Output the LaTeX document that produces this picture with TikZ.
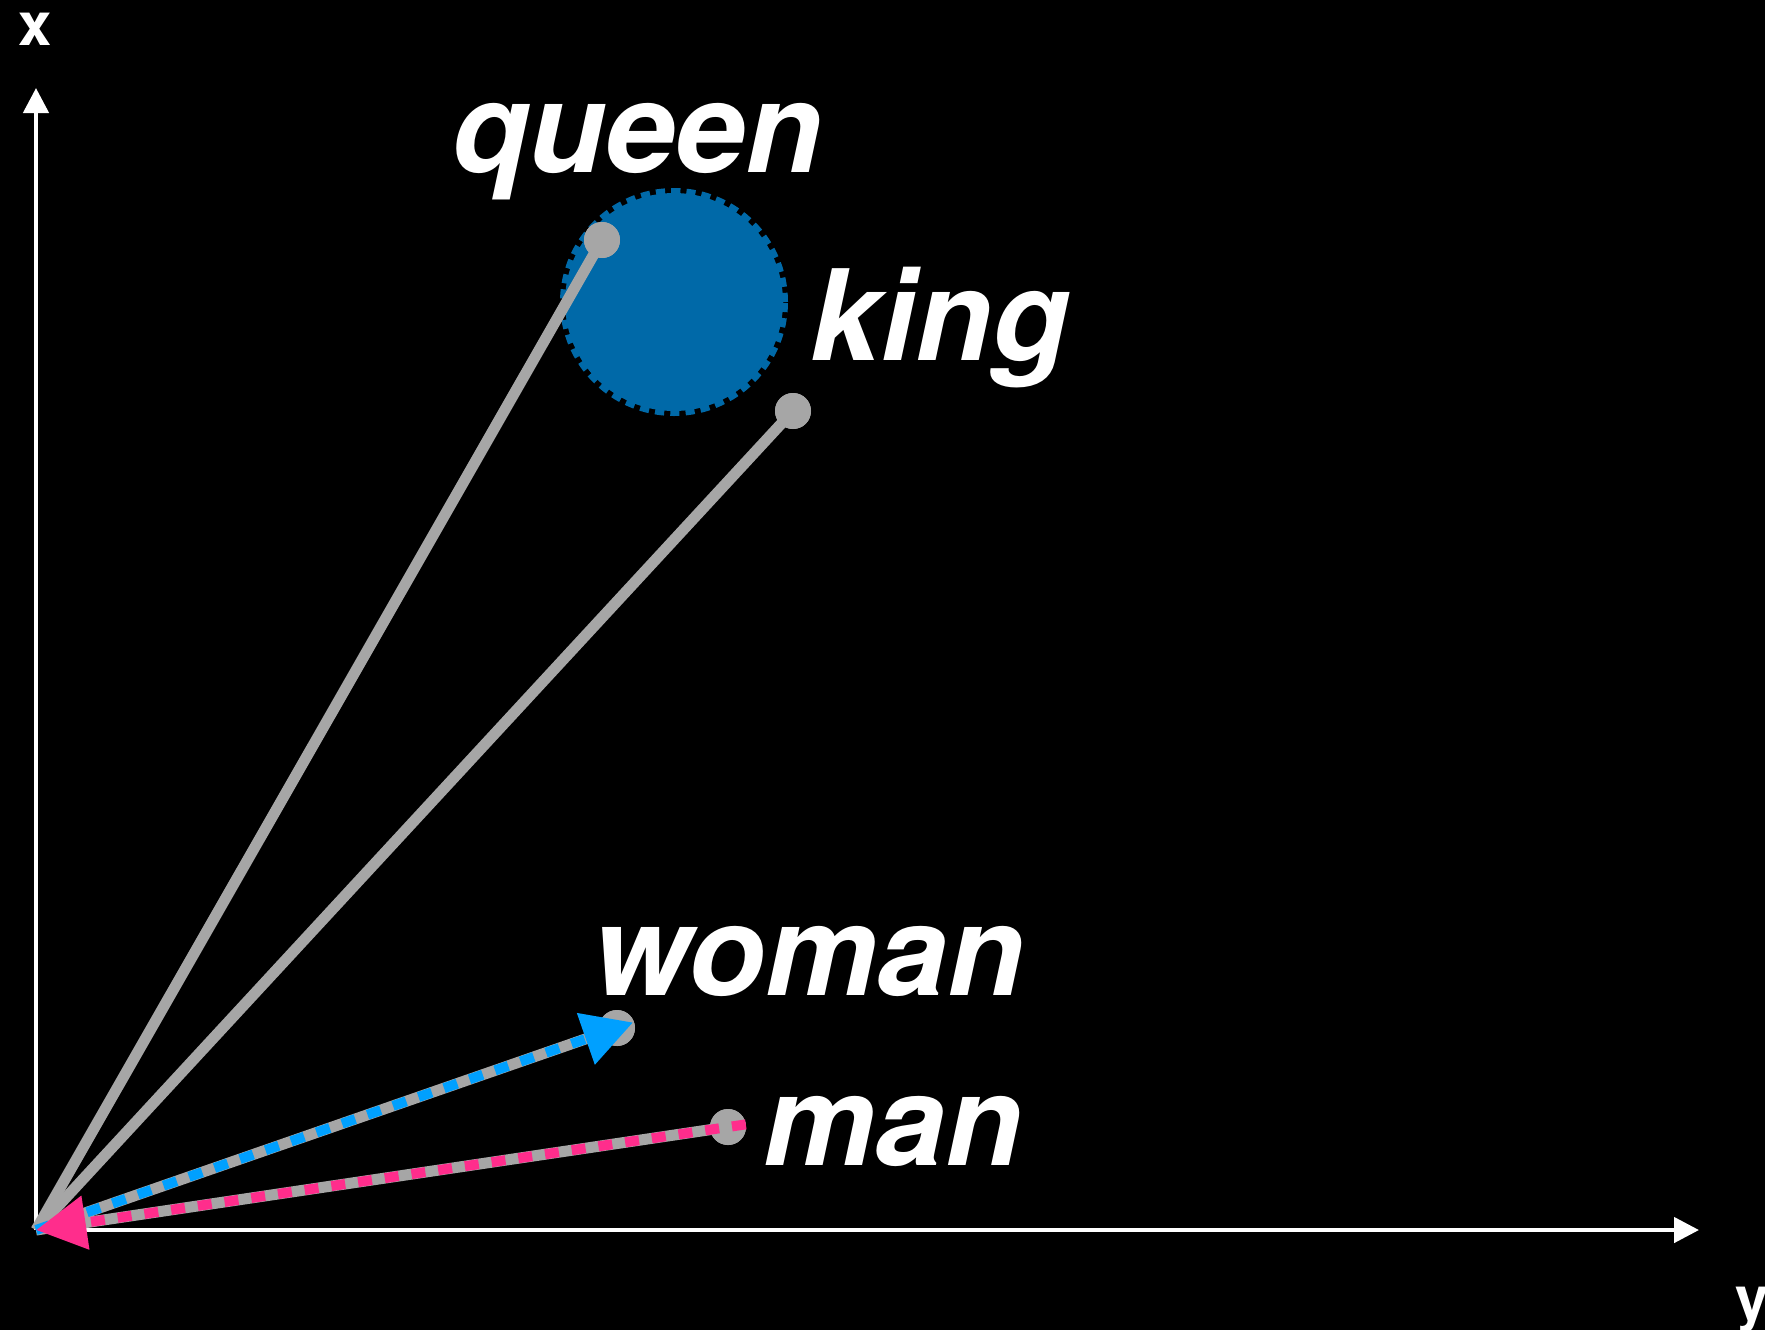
\documentclass[tikz,border=0pt]{standalone}
\usepackage{fontspec}
\setmainfont{TeX Gyre Heros}
\usetikzlibrary{arrows.meta,calc}
\definecolor{vecgrey}{RGB}{166,166,166}
\definecolor{clusterblue}{RGB}{0,105,168}
\definecolor{womanblue}{RGB}{0,160,255}
\definecolor{manpink}{RGB}{255,45,140}

\begin{document}
\begin{tikzpicture}[
    x=0.5pt, y=-0.5pt,
    axis/.style={line width=2.25pt, white, -{Triangle[length=12.5pt,width=12.5pt]}},
    vector/.style={line width=5.5pt, vecgrey},
    worddot/.style={circle, fill=vecgrey, inner sep=0pt, minimum size=18pt},
    word/.style={anchor=base west, inner sep=0pt, text=white,
                 font=\fontsize{63}{72}\selectfont\bfseries\itshape},
    axlabel/.style={inner sep=0pt, text=white, font=\fontsize{30}{36}\selectfont\bfseries},
    diffvec/.style={line width=5pt, dash pattern=on 7pt off 6.5pt,
                    -{Triangle[length=25pt,width=26pt]}}
]
% background and page size
\fill[black] (0,0) rectangle (1765,1330);
\useasboundingbox (0,0) rectangle (1765,1330);

\coordinate (O)  at (36,1230);
\coordinate (xtip) at (36,88);
\coordinate (ytip) at (1699,1230);

% axes
\draw[axis] (O) -- (xtip);
\draw[axis] (O) -- (ytip);
\node[axlabel] (xlab) at (35,29) {x};
\node[axlabel, anchor=base west] (ylab) at (1735,1319) {y};

% neighbourhood of queen
\node[circle, fill=clusterblue, draw=clusterblue, line width=5pt,
      dash pattern=on 4.5pt off 3pt, minimum size=109pt] (cluster) at (674,302) {};

% word vectors
\node[worddot] (queen) at (602,240) {};
\node[worddot] (king)  at (793,411) {};
\node[worddot] (woman) at (617,1028) {};
\node[worddot] (man)   at (728,1127) {};

\draw[vector] (O) -- (queen.center);
\draw[vector] (O) -- (king.center);
\draw[vector] (O) -- (woman.center);
\draw[vector] (O) -- (man.center);
\node[worddot] at (queen.center) {};
\node[worddot] at (king.center) {};
\node[worddot] at (woman.center) {};
\node[worddot] at (man.center) {};

% offsets
\coordinate (womanfar) at ($(woman.center)!-8.5pt!(O)$);
\coordinate (manfar) at ($(man.center)!-9pt!(O)$);
\draw[diffvec, womanblue] (O) -- (womanfar);
\draw[diffvec, manpink] (manfar) -- (O);

% labels
\node[word] (queenlab) at (452,172) {queen};
\node[word] (kinglab)  at (810,360) {king};
\node[word] (womanlab) at (592,995) {woman};
\node[word] (manlab)   at (763,1165) {man};
\end{tikzpicture}
\end{document}
